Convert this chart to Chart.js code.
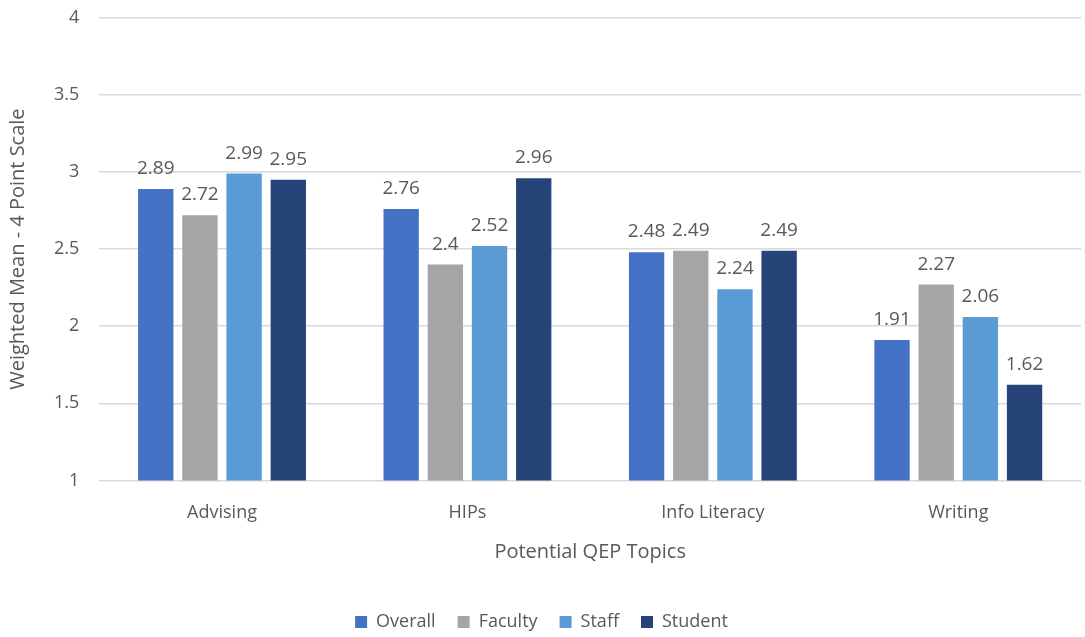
<!DOCTYPE html>
<html>
<head>
<meta charset="utf-8">
<script src="https://cdn.jsdelivr.net/npm/chart.js@4.4.0/dist/chart.umd.min.js"></script>
<style>
  html, body { margin: 0; padding: 0; background: #fff; overflow: hidden; }
  #wrap { width: 1085px; height: 654px; margin-top: -13px; }
</style>
</head>
<body>
<div id="wrap"><canvas id="qepChart"></canvas></div>
<script>
const topics = ['Advising', 'HIPs', 'Info Literacy', 'Writing']
const overall = [2.89, 2.76, 2.48, 1.91]
const faculty = [2.72, 2.4, 2.49, 2.27]
const staff = [2.99, 2.52, 2.24, 2.06]
const student = [2.95, 2.96, 2.49, 1.62]
const yTicks = [1, 1.5, 2, 2.5, 3, 3.5, 4]

const textColor = '#595959'
const fontFamily = '"Open Sans", "Liberation Sans", sans-serif'

// draws each bar's value just above it
const valueLabels = {
    id: 'valueLabels',
    afterDatasetsDraw(chart) {
        const ctx = chart.ctx
        ctx.save()
        ctx.font = '19px ' + fontFamily
        ctx.fillStyle = textColor
        ctx.textAlign = 'center'
        ctx.textBaseline = 'alphabetic'
        chart.data.datasets.forEach((ds, i) => {
            chart.getDatasetMeta(i).data.forEach((bar, j) => {
                ctx.fillText(String(ds.data[j]), bar.x, bar.y - 15)
            })
        })
        ctx.restore()
    }
}

const ctx = document.querySelector('#qepChart').getContext('2d')
new Chart(ctx, {
    type: 'bar',
    data: {
        labels: topics,
        datasets: [
            { label: 'Overall', data: overall, backgroundColor: '#4472C4' },
            { label: 'Faculty', data: faculty, backgroundColor: '#A5A5A5' },
            { label: 'Staff', data: staff, backgroundColor: '#5B9BD5' },
            { label: 'Student', data: student, backgroundColor: '#264478' }
        ]
    },
    options: {
        responsive: true,
        maintainAspectRatio: false,
        animation: false,
        layout: { padding: { left: 2, right: 4, top: 0, bottom: 0 } },
        datasets: {
            bar: { categoryPercentage: 0.72, barPercentage: 0.8 }
        },
        scales: {
            x: {
                grid: { display: false },
                border: { display: false },
                ticks: { color: textColor, font: { family: fontFamily, size: 18 }, padding: 14 },
                title: {
                    display: true,
                    text: 'Potential QEP Topics',
                    color: textColor,
                    font: { family: fontFamily, size: 20 },
                    padding: { top: 2, bottom: 27 }
                }
            },
            y: {
                min: 1,
                max: 4,
                afterBuildTicks: axis => { axis.ticks = yTicks.map(v => ({ value: v })) },
                grid: { color: '#D9D9D9', lineWidth: 1.5, drawTicks: false },
                border: { display: false },
                ticks: {
                    color: textColor,
                    font: { family: fontFamily, size: 18 },
                    padding: 20,
                    callback: value => String(value)
                },
                title: {
                    display: true,
                    text: 'Weighted Mean - 4 Point Scale',
                    color: textColor,
                    font: { family: fontFamily, size: 20 },
                    padding: { bottom: 4 }
                }
            }
        },
        plugins: {
            legend: {
                position: 'bottom',
                labels: {
                    color: textColor,
                    font: { family: fontFamily, size: 18 },
                    boxWidth: 12,
                    boxHeight: 12,
                    padding: 22
                }
            },
            tooltip: { enabled: false }
        }
    },
    plugins: [valueLabels]
})
</script>
</body>
</html>
